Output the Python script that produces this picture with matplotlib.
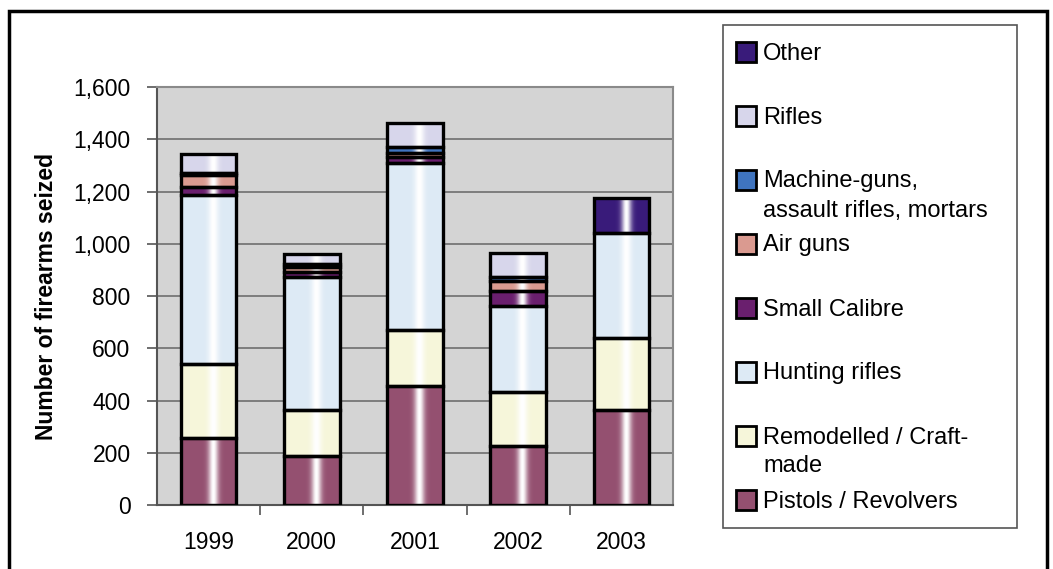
import matplotlib.pyplot as plt
import numpy as np
from matplotlib.colors import to_rgb
from matplotlib.patches import Rectangle

plt.rcParams['font.family'] = ['Liberation Sans', 'DejaVu Sans']

# Firearms seized per year, by category (stacked bottom to top)
years = ['1999', '2000', '2001', '2002', '2003']
pistols = [255, 189, 456, 225, 362]
remodelled = [284, 173, 214, 206, 276]
hunting = [648, 511, 639, 332, 404]
small_calibre = [30, 19, 22, 55, 0]
air_guns = [45, 20, 18, 41, 0]
machine_guns = [10, 10, 22, 15, 0]
rifles = [70, 39, 90, 92, 0]
other = [0, 0, 0, 0, 134]

series = [
    ('Pistols / Revolvers', pistols, '#945070'),
    ('Remodelled / Craft-\nmade', remodelled, '#F6F6DA'),
    ('Hunting rifles', hunting, '#DDEAF5'),
    ('Small Calibre', small_calibre, '#6A1F6E'),
    ('Air guns', air_guns, '#DA9A90'),
    ('Machine-guns,\nassault rifles, mortars', machine_guns, '#3F74BF'),
    ('Rifles', rifles, '#D7D6EB'),
    ('Other', other, '#391B7A'),
]

W, H = 1053, 569
fig = plt.figure(figsize=(W / 100, H / 100), dpi=100)
ax = fig.add_axes([157 / W, 1 - 505 / H, (673 - 157) / W, (505 - 87) / H])
ax.set_facecolor('#D4D4D4')

x = np.arange(len(years))
bar_w = 0.54


def shaded(color, n=200):
    # white highlight band across the bar, like a cylinder
    t = np.linspace(0, 1, n)
    w = np.exp(-((t - 0.58) / 0.09) ** 2)
    c = np.array(to_rgb(color))
    img = c[None, :] * (1 - w[:, None]) + w[:, None]
    return img[None, :, :]


bottom = np.zeros(len(years))
for label, vals, color in series:
    vals = np.array(vals, dtype=float)
    bars = ax.bar(x, vals, bar_w, bottom=bottom, color=color,
                  edgecolor='none', zorder=2)
    for p in bars:
        if p.get_height() <= 0:
            continue
        x0, y0 = p.get_x(), p.get_y()
        im = ax.imshow(shaded(color), extent=(x0, x0 + p.get_width(), y0, y0 + p.get_height()),
                       aspect='auto', interpolation='bilinear', zorder=2.2)
        im.set_clip_path(p)
    ax.bar(x, np.where(vals > 0, vals, np.nan), bar_w, bottom=bottom, fill=False,
           edgecolor='black', linewidth=2.4, zorder=3)
    bottom += vals

ax.set_xlim(-0.5, len(years) - 0.5)
ax.set_ylim(0, 1600)
ax.set_yticks(np.arange(0, 1601, 200))
ax.set_yticklabels([f'{v:,}' for v in range(0, 1601, 200)])
ax.yaxis.grid(True, color='#6E6E6E', linewidth=1.2, zorder=1)
ax.set_axisbelow(True)

ax.set_xticks(x)
ax.set_xticklabels(years)
ax.set_xticks(np.arange(0.5, len(years) - 0.5, 1), minor=True)
ax.tick_params(axis='x', which='major', length=0, pad=19, labelsize=16.5)
ax.tick_params(axis='x', which='minor', length=7, width=1.2, color='#555555', direction='out')
ax.tick_params(axis='y', length=7, width=1.2, color='#555555', pad=12, labelsize=16.5)

for s in ax.spines.values():
    s.set_color('#8A8A8A')
    s.set_linewidth(1.5)
ax.spines['left'].set_color('#555555')
ax.spines['bottom'].set_color('#555555')

ax.set_ylabel('Number of firearms seized', fontsize=16.5, fontweight='bold', labelpad=11)

# Legend box, drawn top to bottom
fig.patches.append(Rectangle((723 / W, 1 - 528 / H), (1017 - 723) / W, (528 - 25) / H,
                             transform=fig.transFigure, facecolor='white',
                             edgecolor='#555555', linewidth=1.2))
for i, (label, vals, color) in enumerate(reversed(series)):
    yc = 52 + 64 * i
    fig.patches.append(Rectangle((736 / W, 1 - (yc + 10) / H), 20 / W, 20 / H,
                                 transform=fig.transFigure, facecolor=color,
                                 edgecolor='black', linewidth=2))
    for j, line in enumerate(label.split('\n')):
        fig.text(763 / W, 1 - (yc + 1.5 + 29 * j) / H, line, fontsize=17,
                 va='center', ha='left')

# Outer frame
fig.patches.append(Rectangle((9 / W, -0.05), (1047 - 9) / W, 1.05 - 11 / H,
                             transform=fig.transFigure, fill=False,
                             edgecolor='black', linewidth=2.5))

fig.savefig('out.png', dpi=100)
